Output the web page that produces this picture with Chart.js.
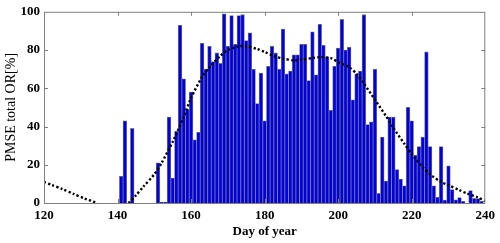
<!DOCTYPE html>
<html>
<head>
<meta charset="utf-8">
<script src="https://cdn.jsdelivr.net/npm/chart.js@4"></script>
<style>
  html,body{margin:0;padding:0;background:#fff;}
  #chart{display:block;}
</style>
</head>
<body>
<canvas id="chart" width="500" height="243"></canvas>
<script>
// daily values, first entry is day 120
const firstDay = 120;
const orValues = [
  0,0,0,0,0,0,0,0,0,0, 0,0,0,0,0,0,0,0,0,0,   // 120-139
  0,14,43,0,39,0,0,0,0,0,                      // 140-149
  0,21,0.5,0.5,45,13,37.5,93,65,49,            // 150-159
  58,33,37,83.5,70,82,74,78.5,73,99,           // 160-169
  82,98,83,98,98.5,85,89,70,52,68,             // 170-179
  43,71.5,82,78.5,70,91,67.5,69,77.5,77.5,     // 180-189
  83,83,64,89.5,67,93.5,82.5,76.5,48.5,71.5,   // 190-199
  81,96,80,81.5,54,67.5,69,98.5,41,42.5,       // 200-209
  70,5,34.5,11.5,45,45,17.5,12.5,9,50,         // 210-219
  43,25,29.5,34.5,79,29.5,9,3,29.5,1.5,        // 220-229
  19.5,7,1.7,2.8,0.9,0,6.5,2.4,2.3,0.9,        // 230-239
  0                                            // 240
];

// fitted curve (dotted), null = below axis
const fitDays = [120,122,125,128,131,134.5,136,143,145,147,150,152,155,158,160,163,165,168,170,173,175,178,180,183,185,188,190,193,195,198,200,203,205,207,210,213,215,218,220,223,225,228,230,233,235,238,240];
const fitVals = [11,9.5,7.3,4.8,2.4,0,null,0,4,8.5,15,21,32,45,55,66,71,77,80,82,82,80.5,79,76.5,75.5,74.6,75,75.8,76.3,75.8,73.7,71,67.5,62.5,54,45.5,39.3,31,25.6,18.7,15,11,9.3,6.7,5,2.9,1];

const xTicks = [120,140,160,180,200,220,240];
const yTicks = [0,20,40,60,80,100];

const barData = orValues.map((v,i)=>({x:firstDay+i, y:v}));
const fitData = fitDays.map((d,i)=>({x:d, y:fitVals[i]}));

const tickFont = {family:'"Liberation Serif", "Times New Roman", serif', size:13, weight:'bold'};

// frame + inward ticks on all sides
const frame = {
  id:'frame',
  afterDraw(chart){
    const {ctx, chartArea:a, scales:{x,y}} = chart;
    ctx.save();
    ctx.strokeStyle = '#808080';
    ctx.lineWidth = 1;
    ctx.strokeRect(a.left+0.5, a.top+0.5, a.right-a.left-1, a.bottom-a.top);
    ctx.beginPath();
    xTicks.slice(1,-1).forEach(t=>{
      const px = Math.round(x.getPixelForValue(t))+0.5;
      ctx.moveTo(px,a.top); ctx.lineTo(px,a.top+4);
      ctx.moveTo(px,a.bottom); ctx.lineTo(px,a.bottom-4);
    });
    yTicks.slice(1,-1).forEach(t=>{
      const py = Math.round(y.getPixelForValue(t))+0.5;
      ctx.moveTo(a.left,py); ctx.lineTo(a.left+4,py);
      ctx.moveTo(a.right,py); ctx.lineTo(a.right-4,py);
    });
    ctx.stroke();
    ctx.restore();
  }
};

new Chart(document.getElementById('chart'), {
  type:'bar',
  data:{
    datasets:[
      {
        type:'line', data:fitData, order:0,
        borderColor:'#000', borderWidth:2.4, borderDash:[2.2,2.2],
        pointRadius:0, tension:0.25, spanGaps:false, fill:false
      },
      {
        type:'bar', data:barData, order:1,
        backgroundColor:'#0000e6', borderColor:'#787878', borderWidth:0.8,
        borderSkipped:'start', barPercentage:1, categoryPercentage:1
      }
    ]
  },
  options:{
    responsive:false, animation:false,
    layout:{padding:{left:0,right:14,top:9,bottom:0}},
    plugins:{legend:{display:false}, tooltip:{enabled:false}},
    scales:{
      x:{
        type:'linear', min:120, max:240, offset:false,
        grid:{display:false, drawTicks:false},
        border:{display:false},
        afterBuildTicks(s){ s.ticks = xTicks.map(v=>({value:v})); },
        afterFit(s){ s.height = 40; },
        ticks:{font:tickFont, color:'#000', padding:5, maxRotation:0, autoSkip:false},
        title:{display:true, text:'Day of year', font:tickFont, color:'#000', padding:{top:0,bottom:4}}
      },
      y:{
        min:0, max:100,
        grid:{display:false, drawTicks:false},
        border:{display:false},
        afterBuildTicks(s){ s.ticks = yTicks.map(v=>({value:v})); },
        afterFit(s){ s.width = 44; },
        ticks:{font:tickFont, color:'#000', padding:4},
        title:{display:true, text:'PMSE total OR[%]', color:'#000',
          font:{family:'"Liberation Serif", "Times New Roman", serif', size:14}, padding:{top:3,bottom:0}}
      }
    }
  },
  plugins:[frame]
});
</script>
</body>
</html>
